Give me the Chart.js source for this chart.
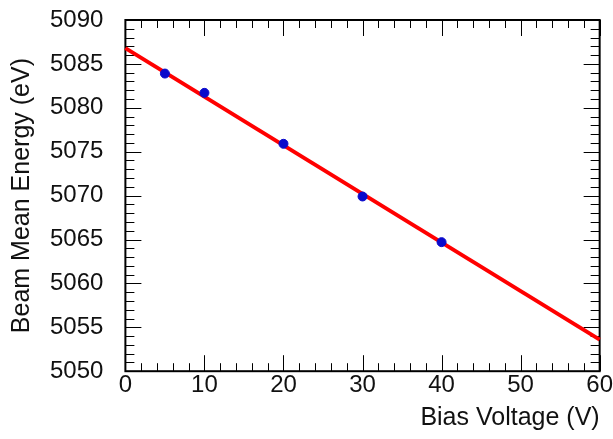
<!DOCTYPE html>
<html>
<head>
<meta charset="utf-8">
<script src="https://cdn.jsdelivr.net/npm/chart.js@4"></script>
<style>
  html, body { margin: 0; padding: 0; background: #fff; }
  #wrap { width: 613px; height: 439px; }
</style>
</head>
<body>
<div id="wrap"><canvas id="bias-chart"></canvas></div>
<script>
// measured points
const biasVoltage = [5, 10, 20, 30, 40];
const meanEnergy = [5083.9, 5081.7, 5075.9, 5069.9, 5064.7];
// straight line fit, end points
const fitVoltage = [0, 60];
const fitEnergy = [5086.8, 5053.6];
// axis ranges
const xRange = [0, 60, 10];
const yRange = [5050, 5090, 5];

const toXY = (xs, ys) => xs.map((x, i) => ({ x: x, y: ys[i] }));

// box round the plot with little ticks pointing inwards on every side
const frameTicks = {
    id: 'frameTicks',
    beforeDatasetsDraw(chart) {
        const { ctx, chartArea: a, scales } = chart;
        const xs = scales.x, ys = scales.y;
        ctx.save();
        ctx.strokeStyle = '#000';
        ctx.lineWidth = 1;
        ctx.beginPath();
        for (let v = xRange[0]; v <= xRange[1]; v += 2) {
            const px = Math.round(xs.getPixelForValue(v)) + 0.5;
            const len = v % xRange[2] === 0 ? 16 : 8;
            ctx.moveTo(px, a.bottom); ctx.lineTo(px, a.bottom - len);
            ctx.moveTo(px, a.top); ctx.lineTo(px, a.top + len);
        }
        for (let v = yRange[0]; v <= yRange[1]; v += 1) {
            const py = Math.round(ys.getPixelForValue(v)) + 0.5;
            const len = v % yRange[2] === 0 ? 16 : 9;
            ctx.moveTo(a.left, py); ctx.lineTo(a.left + len, py);
            ctx.moveTo(a.right, py); ctx.lineTo(a.right - len, py);
        }
        ctx.stroke();
        ctx.lineWidth = 2;
        ctx.strokeRect(a.left, a.top, a.right - a.left, a.bottom - a.top);
        ctx.restore();
    }
};

const font = { family: "'Liberation Sans', Arial, sans-serif", size: 24 };
const plain = (v) => String(v);

new Chart(document.getElementById('bias-chart'), {
    type: 'scatter',
    data: {
        datasets: [{
            label: 'fit',
            type: 'line',
            data: toXY(fitVoltage, fitEnergy),
            borderColor: '#ff0000',
            borderWidth: 4,
            pointRadius: 0,
            clip: false,
            order: 2
        }, {
            label: 'data',
            data: toXY(biasVoltage, meanEnergy),
            backgroundColor: '#0a0acc',
            borderColor: '#0a0acc',
            pointRadius: 4.5,
            order: 1
        }]
    },
    options: {
        responsive: true,
        maintainAspectRatio: false,
        animation: false,
        layout: { padding: { top: 20, right: 0, bottom: 6, left: 0 } },
        plugins: { legend: { display: false }, tooltip: { enabled: false } },
        scales: {
            x: {
                type: 'linear',
                min: xRange[0], max: xRange[1],
                grid: { display: false, drawTicks: false },
                border: { display: false },
                ticks: { stepSize: xRange[2], color: '#111', font: font, padding: 0, maxRotation: 0, callback: plain },
                title: {
                    display: true, text: 'Bias Voltage (V)', align: 'end',
                    color: '#111', font: { family: font.family, size: 25 }, padding: { top: 3, bottom: 0 }
                }
            },
            y: {
                type: 'linear',
                min: yRange[0], max: yRange[1],
                // invisible tick marks just hold the labels away from the frame
                grid: { display: true, drawOnChartArea: false, drawTicks: true, tickLength: 18, color: 'transparent' },
                border: { display: false },
                ticks: { stepSize: yRange[2], color: '#111', font: font, padding: 4, callback: plain },
                title: {
                    display: true, text: 'Beam Mean Energy (eV)',
                    color: '#111', font: { family: font.family, size: 25 }, padding: { top: 7, bottom: 9 }
                }
            }
        }
    },
    plugins: [frameTicks]
});
</script>
</body>
</html>
